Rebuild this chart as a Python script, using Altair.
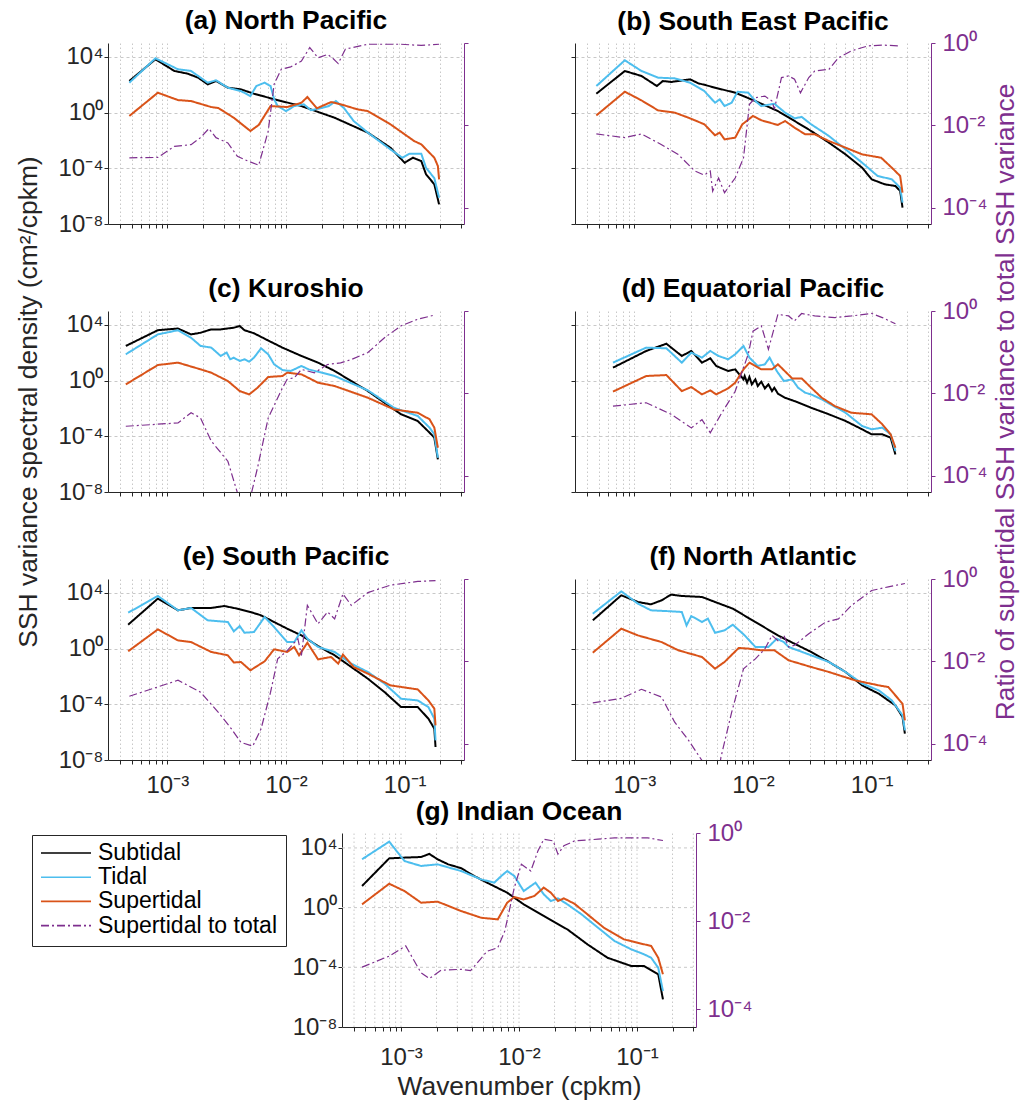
import altair as alt
import pandas as pd

FONT = "Liberation Sans"
PURPLE = "#7E2F8E"
AX = "#262626"
GRID = "#c8c8c8"

SERIES = ["Subtidal", "Tidal", "Supertidal", "Supertidal to total"]
COLORS = ["#000000", "#4DBEEE", "#D95319", "#7E2F8E"]
DASHES = [[1, 0], [1, 0], [1, 0], [8, 3, 2, 3]]

XMIN, XMAX = 10 ** -3.5, 10 ** -0.5
YL_DOM = [1e-8, 1e5]
YR_DOM = [4e-5, 1.0]

# (log10 wavenumber [cpkm], log10 value)
A_SUB = [(-3.32,2.27),(-3.10,3.83),(-2.94,2.99),(-2.83,2.80),(-2.74,2.51),(-2.66,2.03),(-2.59,2.27),(-2.49,1.79),(-2.38,1.67),(-2.27,1.36),(-2.10,0.96),(-1.87,0.47),(-1.59,-0.37),(-1.31,-1.44),(-1.12,-2.52),(-1.00,-3.60),(-0.93,-3.24),(-0.86,-3.48),(-0.82,-4.43),(-0.75,-5.15),(-0.71,-6.59)]
A_TID = [(-3.32,2.15),(-3.10,3.90),(-2.91,3.11),(-2.80,2.99),(-2.66,2.15),(-2.59,2.32),(-2.49,1.79),(-2.38,1.55),(-2.30,1.19),(-2.25,1.91),(-2.18,2.15),(-2.13,1.91),(-2.10,0.96),(-2.07,0.47),(-2.00,0.11),(-1.93,0.47),(-1.85,0.60),(-1.79,0.17),(-1.71,0.31),(-1.64,0.47),(-1.58,0.83),(-1.51,0.31),(-1.43,-0.60),(-1.31,-1.44),(-1.12,-2.64),(-1.02,-3.24),(-0.96,-2.95),(-0.86,-2.95),(-0.82,-3.96),(-0.75,-4.71),(-0.71,-6.11)]
A_SUP = [(-3.32,-0.24),(-3.08,1.43),(-2.91,0.90),(-2.80,0.83),(-2.63,0.40),(-2.57,0.33),(-2.44,-0.37),(-2.30,-1.32),(-2.23,-0.89),(-2.13,0.47),(-1.99,0.40),(-1.87,0.71),(-1.82,1.12),(-1.74,0.31),(-1.62,0.76),(-1.54,0.60),(-1.40,0.24),(-1.31,0.11),(-1.12,-0.84),(-0.92,-2.04),(-0.86,-2.28),(-0.75,-3.24),(-0.72,-3.84),(-0.71,-4.79)]
A_RAT = [(-3.32,-2.79),(-3.08,-2.78),(-2.94,-2.51),(-2.80,-2.47),(-2.72,-2.30),(-2.65,-2.08),(-2.59,-2.30),(-2.49,-2.43),(-2.41,-2.75),(-2.32,-2.87),(-2.23,-2.97),(-2.15,-2.14),(-2.10,-1.00),(-2.04,-0.64),(-1.96,-0.58),(-1.87,-0.44),(-1.80,-0.11),(-1.73,-0.36),(-1.65,-0.28),(-1.61,-0.36),(-1.56,-0.50),(-1.50,-0.15),(-1.31,-0.03),(-1.03,-0.03),(-0.86,-0.06),(-0.71,-0.03)]

B_SUB = [(-3.32,1.36),(-3.08,2.99),(-2.94,2.63),(-2.81,1.91),(-2.76,2.27),(-2.69,2.20),(-2.53,2.39),(-2.46,2.10),(-2.41,2.00),(-2.32,1.79),(-2.15,1.43),(-1.98,0.83),(-1.79,0.11),(-1.65,-0.60),(-1.51,-1.32),(-1.36,-2.16),(-1.22,-3.00),(-1.08,-3.96),(-1.00,-4.79),(-0.89,-5.15),(-0.80,-5.27),(-0.76,-5.63),(-0.74,-6.83)]
B_TID = [(-3.32,1.91),(-3.08,3.76),(-2.94,2.99),(-2.80,2.51),(-2.66,2.46),(-2.53,2.15),(-2.41,1.55),(-2.32,0.71),(-2.28,0.95),(-2.24,0.47),(-2.18,0.71),(-2.13,1.50),(-2.04,1.43),(-1.98,0.83),(-1.93,0.47),(-1.82,0.64),(-1.73,0.00),(-1.65,-0.41),(-1.59,-0.31),(-1.51,-0.84),(-1.36,-1.68),(-1.22,-2.64),(-1.08,-3.60),(-0.95,-4.55),(-0.83,-4.79),(-0.76,-5.39),(-0.74,-6.47)]
B_SUP = [(-3.32,-0.20),(-3.08,1.50),(-2.94,0.88),(-2.80,0.16),(-2.66,0.00),(-2.53,-0.41),(-2.41,-0.84),(-2.32,-1.63),(-2.28,-1.44),(-2.24,-1.92),(-2.15,-1.80),(-2.09,-0.84),(-2.00,-0.24),(-1.93,-0.55),(-1.79,-0.89),(-1.73,-0.60),(-1.65,-1.08),(-1.56,-1.56),(-1.48,-1.56),(-1.36,-2.04),(-1.22,-2.52),(-1.08,-3.00),(-0.92,-3.24),(-0.83,-3.96),(-0.76,-4.55),(-0.74,-5.75)]
B_RAT = [(-3.32,-2.21),(-3.08,-2.30),(-2.94,-2.21),(-2.77,-2.47),(-2.63,-2.71),(-2.49,-3.11),(-2.41,-3.21),(-2.36,-3.11),(-2.34,-3.60),(-2.29,-3.28),(-2.24,-3.64),(-2.15,-3.28),(-2.08,-2.79),(-2.03,-1.49),(-1.98,-1.33),(-1.90,-1.29),(-1.84,-1.41),(-1.82,-1.61),(-1.76,-0.84),(-1.70,-0.80),(-1.65,-0.88),(-1.60,-1.21),(-1.53,-0.84),(-1.48,-0.68),(-1.36,-0.64),(-1.28,-0.36),(-1.17,-0.19),(-1.03,-0.07),(-0.91,-0.05),(-0.77,-0.07)]

C_SUB = [(-3.35,2.49),(-3.08,3.62),(-2.91,3.74),(-2.80,3.32),(-2.72,3.44),(-2.63,3.68),(-2.55,3.68),(-2.49,3.75),(-2.44,3.80),(-2.39,3.92),(-2.35,3.62),(-2.27,3.40),(-2.15,2.88),(-2.03,2.37),(-1.87,1.77),(-1.73,1.29),(-1.59,0.69),(-1.45,-0.03),(-1.31,-0.75),(-1.17,-1.59),(-1.03,-2.42),(-0.89,-2.90),(-0.79,-3.74),(-0.75,-4.10),(-0.72,-5.66)]
C_TID = [(-3.35,1.89),(-3.08,3.32),(-2.91,3.62),(-2.80,3.08),(-2.72,2.49),(-2.63,2.37),(-2.55,1.77),(-2.50,2.01),(-2.47,1.53),(-2.44,1.65),(-2.39,1.41),(-2.35,1.53),(-2.31,1.36),(-2.27,1.65),(-2.21,2.32),(-2.15,1.89),(-2.10,1.17),(-2.03,0.76),(-1.96,0.69),(-1.87,1.05),(-1.81,0.81),(-1.59,0.33),(-1.31,-0.70),(-1.09,-1.95),(-0.89,-2.54),(-0.79,-3.38),(-0.75,-3.86),(-0.72,-5.54)]
C_SUP = [(-3.35,-0.27),(-3.08,1.12),(-2.91,1.29),(-2.72,0.81),(-2.63,0.57),(-2.49,-0.03),(-2.39,-0.75),(-2.31,-0.99),(-2.24,-0.51),(-2.15,0.26),(-2.03,0.33),(-1.99,0.57),(-1.87,0.45),(-1.73,-0.15),(-1.59,-0.39),(-1.31,-1.23),(-1.09,-2.07),(-0.89,-2.31),(-0.79,-2.78),(-0.75,-3.38),(-0.72,-4.82)]
C_RAT = [(-3.35,-2.80),(-2.91,-2.72),(-2.80,-2.47),(-2.72,-2.60),(-2.63,-3.16),(-2.49,-3.65),(-2.39,-4.60),(-2.31,-4.65),(-2.24,-3.81),(-2.15,-2.60),(-2.03,-1.87),(-1.99,-1.66),(-1.93,-1.62),(-1.87,-1.42),(-1.76,-1.50),(-1.65,-1.30),(-1.54,-1.26),(-1.45,-1.18),(-1.31,-1.01),(-1.17,-0.65),(-1.03,-0.36),(-0.89,-0.20),(-0.75,-0.10)]

D_SUB = [(-3.18,0.93),(-2.90,2.13),(-2.73,2.65),(-2.60,1.77),(-2.52,2.13),(-2.43,1.29),(-2.36,1.60),(-2.31,1.05),(-2.21,0.69),(-2.15,0.81),(-2.08,0.09),(-2.07,0.33),(-2.05,-0.15),(-2.03,0.26),(-2.01,-0.27),(-1.98,0.09),(-1.96,-0.39),(-1.93,-0.08),(-1.90,-0.56),(-1.87,-0.27),(-1.84,-0.75),(-1.82,-0.51),(-1.79,-0.94),(-1.73,-1.23),(-1.65,-1.47),(-1.51,-1.95),(-1.36,-2.42),(-1.22,-2.90),(-1.08,-3.50),(-1.00,-3.86),(-0.91,-3.86),(-0.84,-4.10),(-0.80,-5.30)]
D_TID = [(-3.18,1.29),(-2.90,2.37),(-2.73,2.32),(-2.60,1.29),(-2.52,2.01),(-2.43,1.65),(-2.36,2.13),(-2.29,1.77),(-2.21,1.53),(-2.15,1.89),(-2.08,2.49),(-2.03,1.65),(-1.96,1.05),(-1.90,1.17),(-1.86,1.65),(-1.80,0.69),(-1.74,-0.03),(-1.67,0.09),(-1.62,-0.51),(-1.56,-0.87),(-1.51,-0.99),(-1.42,-1.35),(-1.22,-2.31),(-1.08,-3.26),(-1.00,-3.50),(-0.91,-3.38),(-0.84,-3.86),(-0.80,-5.06)]
D_SUP = [(-3.18,-0.79),(-2.90,0.33),(-2.73,0.40),(-2.60,-0.75),(-2.52,-0.46),(-2.43,-0.99),(-2.36,-0.70),(-2.31,-0.99),(-2.21,-0.56),(-2.15,-0.15),(-2.08,0.81),(-2.03,1.29),(-1.93,0.81),(-1.84,0.81),(-1.79,1.17),(-1.67,0.16),(-1.59,0.16),(-1.51,-0.51),(-1.42,-1.23),(-1.31,-1.83),(-1.17,-2.31),(-1.00,-2.42),(-0.91,-3.14),(-0.84,-3.86),(-0.80,-4.82)]
D_RAT = [(-3.18,-2.31),(-2.90,-2.23),(-2.69,-2.51),(-2.52,-2.84),(-2.43,-2.64),(-2.36,-2.96),(-2.27,-2.51),(-2.15,-1.95),(-2.04,-1.05),(-2.00,-0.49),(-1.93,-0.36),(-1.87,-0.93),(-1.79,-0.08),(-1.70,-0.12),(-1.65,-0.24),(-1.59,-0.06),(-1.48,-0.12),(-1.31,-0.16),(-1.17,-0.12),(-1.00,-0.06),(-0.91,-0.16),(-0.80,-0.31)]

E_SUB = [(-3.33,1.72),(-3.08,3.59),(-2.91,2.75),(-2.80,2.92),(-2.63,2.92),(-2.52,3.06),(-2.41,2.87),(-2.30,2.63),(-2.21,2.39),(-2.10,1.91),(-1.99,1.43),(-1.87,0.95),(-1.73,0.18),(-1.59,-0.48),(-1.45,-1.32),(-1.31,-2.16),(-1.17,-3.12),(-1.03,-4.20),(-0.89,-4.20),(-0.80,-5.03),(-0.75,-5.75),(-0.74,-7.07)]
E_TID = [(-3.33,2.58),(-3.08,3.78),(-2.91,2.75),(-2.80,2.92),(-2.66,2.03),(-2.49,1.91),(-2.44,1.24),(-2.39,1.62),(-2.35,1.14),(-2.27,1.19),(-2.18,2.27),(-2.10,1.55),(-1.99,0.47),(-1.93,0.47),(-1.87,1.31),(-1.82,0.71),(-1.73,0.12),(-1.59,-0.24),(-1.45,-1.08),(-1.31,-1.68),(-1.17,-2.51),(-1.03,-3.60),(-0.89,-3.72),(-0.80,-4.20),(-0.75,-5.03),(-0.74,-6.59)]
E_SUP = [(-3.33,-0.19),(-3.08,1.38),(-2.91,0.59),(-2.80,0.47),(-2.63,-0.24),(-2.49,-0.48),(-2.44,-1.00),(-2.38,-0.96),(-2.30,-1.56),(-2.18,-0.91),(-2.10,-0.05),(-1.99,-0.24),(-1.93,0.12),(-1.89,-0.48),(-1.82,0.42),(-1.73,-0.77),(-1.62,-0.60),(-1.56,-1.08),(-1.52,-0.43),(-1.43,-1.32),(-1.31,-1.80),(-1.12,-2.64),(-0.89,-2.93),(-0.80,-3.72),(-0.75,-4.31),(-0.74,-5.51)]
E_RAT = [(-3.32,-2.85),(-2.91,-2.46),(-2.72,-2.75),(-2.57,-3.24),(-2.46,-3.64),(-2.38,-3.97),(-2.28,-4.06),(-2.21,-3.64),(-2.13,-2.75),(-2.07,-1.94),(-1.99,-1.74),(-1.90,-1.45),(-1.87,-1.86),(-1.82,-0.64),(-1.73,-1.09),(-1.65,-0.80),(-1.59,-0.97),(-1.52,-0.36),(-1.45,-0.64),(-1.31,-0.33),(-1.12,-0.15),(-0.89,-0.06),(-0.74,-0.04)]

F_SUB = [(-3.35,2.03),(-3.11,3.83),(-2.97,3.35),(-2.86,3.18),(-2.77,3.47),(-2.69,3.88),(-2.60,3.78),(-2.43,3.71),(-2.32,3.35),(-2.17,2.87),(-1.98,1.91),(-1.79,0.95),(-1.65,0.35),(-1.51,-0.24),(-1.36,-0.96),(-1.22,-1.68),(-1.08,-2.64),(-0.94,-3.24),(-0.80,-4.08),(-0.74,-4.91),(-0.72,-6.11)]
F_TID = [(-3.35,2.51),(-3.11,4.11),(-2.97,3.23),(-2.86,2.75),(-2.69,2.68),(-2.60,2.63),(-2.56,1.67),(-2.52,2.34),(-2.43,1.91),(-2.38,2.15),(-2.32,1.14),(-2.24,1.31),(-2.17,1.72),(-2.07,0.95),(-1.98,0.12),(-1.87,0.12),(-1.80,0.71),(-1.74,0.47),(-1.70,0.12),(-1.51,-0.48),(-1.36,-0.96),(-1.22,-1.68),(-1.08,-2.51),(-0.94,-3.00),(-0.83,-3.72),(-0.74,-4.79),(-0.72,-5.87)]
F_SUP = [(-3.35,-0.29),(-3.11,1.43),(-2.97,0.95),(-2.77,0.47),(-2.63,-0.12),(-2.43,-0.60),(-2.32,-1.44),(-2.24,-0.96),(-2.12,0.05),(-2.04,0.00),(-1.93,-0.12),(-1.82,-0.12),(-1.70,-0.84),(-1.51,-1.32),(-1.36,-1.68),(-1.14,-2.28),(-0.94,-2.64),(-0.86,-2.76),(-0.74,-3.96),(-0.72,-5.15)]
F_RAT = [(-3.35,-3.01),(-3.11,-2.90),(-2.94,-2.68),(-2.77,-2.87),(-2.66,-3.48),(-2.55,-3.89),(-2.43,-4.41),(-2.29,-4.70),(-2.27,-4.33),(-2.18,-3.24),(-2.08,-2.18),(-1.98,-1.94),(-1.90,-1.70),(-1.84,-1.37),(-1.79,-1.50),(-1.74,-1.37),(-1.70,-1.65),(-1.65,-1.61),(-1.53,-1.33),(-1.39,-1.05),(-1.28,-0.97),(-1.17,-0.64),(-1.00,-0.28),(-0.86,-0.19),(-0.72,-0.11)]

G_SUB = [(-3.33,1.45),(-3.10,3.30),(-2.97,3.35),(-2.83,3.39),(-2.76,3.60),(-2.69,3.24),(-2.60,2.90),(-2.49,2.64),(-2.38,2.12),(-2.27,1.67),(-2.10,1.00),(-1.96,0.22),(-1.79,-0.56),(-1.59,-1.46),(-1.42,-2.46),(-1.25,-3.36),(-1.05,-3.91),(-0.94,-3.91),(-0.82,-4.47),(-0.78,-6.15)]
G_TID = [(-3.33,3.24),(-3.10,4.42),(-2.97,3.12),(-2.83,2.79),(-2.69,2.90),(-2.49,2.45),(-2.32,1.89),(-2.21,1.67),(-2.15,2.12),(-2.10,2.45),(-2.04,2.12),(-1.96,1.11),(-1.86,1.67),(-1.79,0.89),(-1.73,0.44),(-1.67,0.62),(-1.59,0.22),(-1.47,-0.45),(-1.33,-1.35),(-1.19,-2.24),(-1.05,-2.79),(-0.94,-3.13),(-0.88,-3.36),(-0.82,-4.03),(-0.78,-5.59)]
G_SUP = [(-3.33,0.22),(-3.10,1.60),(-2.97,1.11),(-2.83,0.33),(-2.69,0.40),(-2.49,-0.23),(-2.32,-0.68),(-2.18,-0.79),(-2.10,0.33),(-2.04,0.71),(-1.96,0.55),(-1.87,0.78),(-1.79,1.34),(-1.73,1.00),(-1.67,0.44),(-1.62,0.62),(-1.53,0.26),(-1.42,-0.45),(-1.28,-1.35),(-1.11,-2.13),(-0.94,-2.46),(-0.88,-2.57),(-0.82,-3.36),(-0.78,-4.47)]
G_RAT = [(-3.33,-3.04),(-3.10,-2.79),(-2.96,-2.56),(-2.83,-3.17),(-2.76,-3.30),(-2.66,-3.11),(-2.49,-3.09),(-2.41,-3.12),(-2.27,-2.68),(-2.18,-2.60),(-2.12,-2.22),(-2.04,-1.24),(-1.98,-0.71),(-1.90,-0.86),(-1.84,-0.41),(-1.79,-0.14),(-1.71,-0.18),(-1.67,-0.48),(-1.62,-0.29),(-1.53,-0.18),(-1.33,-0.14),(-1.19,-0.11),(-0.91,-0.11),(-0.78,-0.17)]

XTICKS = [float(f"{m}e{e}") for e in (-4, -3, -2, -1) for m in range(1, 10)
          if XMIN <= float(f"{m}e{e}") <= XMAX]
YL_TICKS = [1e-8, 1e-4, 1.0, 1e4]
YR_TICKS = [1e-4, 1e-2, 1.0]

XEXPR = ("datum.value == 0.001 ? '10\u207b\u00b3' : datum.value == 0.01 ? '10\u207b\u00b2' : "
         "datum.value == 0.1 ? '10\u207b\u00b9' : ''")
YLEXPR = ("datum.value > 1000 ? '10\u2074' : datum.value > 0.5 ? '10\u2070' : "
          "datum.value > 1e-5 ? '10\u207b\u2074' : '10\u207b\u2078'")
YREXPR = "datum.value > 0.5 ? '10\u2070' : datum.value > 0.005 ? '10\u207b\u00b2' : '10\u207b\u2074'"

LEG = alt.Legend(orient="none", legendX=-76, legendY=792, title=None,
                 symbolType="stroke", symbolSize=2500, symbolStrokeWidth=1.6,
                 labelFont=FONT, labelFontSize=23, labelColor="black", labelOffset=6,
                 labelLimit=400, rowPadding=1.2, clipHeight=20, padding=8,
                 strokeColor=AX, fillColor="white", cornerRadius=0)
COLOR = alt.Color("series:N", scale=alt.Scale(domain=SERIES, range=COLORS), legend=LEG)
DASH = alt.StrokeDash("series:N", scale=alt.Scale(domain=SERIES, range=DASHES), legend=LEG)


def series_df(pairs, name):
    return pd.DataFrame({"k": [10 ** a for a, b in pairs],
                         "v": [10 ** b for a, b in pairs],
                         "series": name})


def panel(data, title, col, w, h, show_x=False, left_title=None, right_title=None,
          x_title=None, xpad=9, title_dy=26, shifted=False):
    """shifted=True is used for (g): its plot is drawn 234 px right of its grid cell
    and 14 px above it, through the scale ranges and axis offsets."""
    sub, tid, sup, rat = data
    psd = pd.concat([series_df(sub, SERIES[0]), series_df(tid, SERIES[1]),
                     series_df(sup, SERIES[2])], ignore_index=True)
    ratio = series_df(rat, SERIES[3])
    xr = {"range": [234, 234 + 354]} if shifted else {}
    yr = {"range": [h, -14]} if shifted else {}
    xs = alt.Scale(type="log", domain=[XMIN, XMAX], nice=False, **xr)
    ls = alt.Scale(type="log", domain=YL_DOM, nice=False, **yr)
    rs = alt.Scale(type="log", domain=YR_DOM, nice=False, **yr)
    xaxis = alt.Axis(values=XTICKS, labelExpr=XEXPR, labels=show_x, grid=not shifted,
                     gridColor=GRID, gridDash=[1.5, 2.5], gridWidth=1,
                     domainColor=AX, tickColor=AX, tickSize=4, labelColor=AX,
                     labelFontSize=24, labelPadding=xpad, labelOverlap=False,
                     labelFlush=False, title=x_title, titleFontSize=26.4,
                     titleFontWeight="normal", titleColor=AX, titlePadding=4)
    lax = alt.Axis(orient="left", values=YL_TICKS, labelExpr=YLEXPR, labels=(col != 1),
                   grid=not shifted, gridColor=GRID, gridDash=[3, 3], gridWidth=1,
                   domainColor=AX, tickColor=AX, tickSize=4, labelColor=AX,
                   labelFontSize=24, labelPadding=1, labelOverlap=False, labelFlush=False,
                   title=left_title, titleFontSize=26.4, titleFontWeight="normal",
                   titleColor=AX, titlePadding=15, offset=(-234 if shifted else 0))
    rax = alt.Axis(orient="right", values=YR_TICKS, labelExpr=YREXPR, labels=(col != 0),
                   grid=False, domainColor=PURPLE, tickColor=PURPLE, tickSize=4,
                   labelColor=PURPLE, labelFontSize=24, labelPadding=7,
                   labelOverlap=False, labelFlush=False,
                   title=right_title, titleFontSize=26.4, titleFontWeight="normal",
                   titleColor=PURPLE, titlePadding=32, titleAngle=270,
                   offset=(234 + 354 - w if shifted else 0))
    layers = []
    if shifted:
        hgrid = pd.DataFrame({"v": YL_TICKS[1:], "k0": XMIN, "k1": XMAX})
        vgrid = pd.DataFrame({"k": XTICKS, "v0": YL_DOM[0], "v1": YL_DOM[1]})
        layers.append(alt.Chart(hgrid).mark_rule(color=GRID, strokeDash=[3, 3], strokeWidth=1).encode(
            x=alt.X("k0:Q", scale=xs, axis=xaxis), x2="k1:Q",
            y=alt.Y("v:Q", scale=ls, axis=None)))
        layers.append(alt.Chart(vgrid).mark_rule(color=GRID, strokeDash=[1.5, 2.5], strokeWidth=1).encode(
            x=alt.X("k:Q", scale=xs, axis=xaxis),
            y=alt.Y("v0:Q", scale=ls, axis=None), y2="v1:Q"))
    layers.append(alt.Chart(psd).mark_line(strokeWidth=2, clip=not shifted).encode(
        x=alt.X("k:Q", scale=xs, axis=xaxis), y=alt.Y("v:Q", scale=ls, axis=lax),
        color=COLOR, strokeDash=DASH))
    layers.append(alt.Chart(ratio).mark_line(strokeWidth=1.2, clip=not shifted).encode(
        x=alt.X("k:Q", scale=xs, axis=xaxis), y=alt.Y("v:Q", scale=rs, axis=rax),
        color=COLOR, strokeDash=DASH))
    return alt.layer(*layers).resolve_scale(y="independent").properties(
        width=w, height=h,
        title=alt.TitleParams(title, anchor="middle", frame="group", offset=13,
                              dy=title_dy, dx=(234 + 177 - w / 2 if shifted else 0),
                              baseline="alphabetic", font=FONT, fontSize=26.4,
                              fontWeight="bold", color="black"))


W, H = 356, 181
pa = panel((A_SUB, A_TID, A_SUP, A_RAT), "(a) North Pacific", 0, W, H, title_dy=26)
pb = panel((B_SUB, B_TID, B_SUP, B_RAT), "(b) South East Pacific", 1, W, H, title_dy=38)
pc = panel((C_SUB, C_TID, C_SUP, C_RAT), "(c) Kuroshio", 0, W, H, title_dy=181,
           left_title="SSH variance spectral density (cm\u00b2/cpkm)")
pd_ = panel((D_SUB, D_TID, D_SUP, D_RAT), "(d) Equatorial Pacific", 1, W, H, title_dy=253,
            right_title="Ratio of supertidal SSH variance to total SSH variance")
pe = panel((E_SUB, E_TID, E_SUP, E_RAT), "(e) South Pacific", 0, W, H, show_x=True, title_dy=26)
pf = panel((F_SUB, F_TID, F_SUP, F_RAT), "(f) North Atlantic", 1, W, H, show_x=True, title_dy=37)
pg = panel((G_SUB, G_TID, G_SUP, G_RAT), "(g) Indian Ocean", 2, W, 180, show_x=True,
           x_title="Wavenumber (cpkm)", xpad=14, title_dy=38, shifted=True)

chart = alt.concat(pa, pb, pc, pd_, pe, pf, pg, columns=2, bounds="flush",
                   spacing=alt.RowColnumber(row=87, column=111)).properties(
    padding={"left": 15, "top": 8, "right": 5, "bottom": 5}
).configure_view(strokeWidth=0).configure_axis(labelFont=FONT, titleFont=FONT)

chart.save("out.html", embed_options={"renderer": "svg", "actions": False})
